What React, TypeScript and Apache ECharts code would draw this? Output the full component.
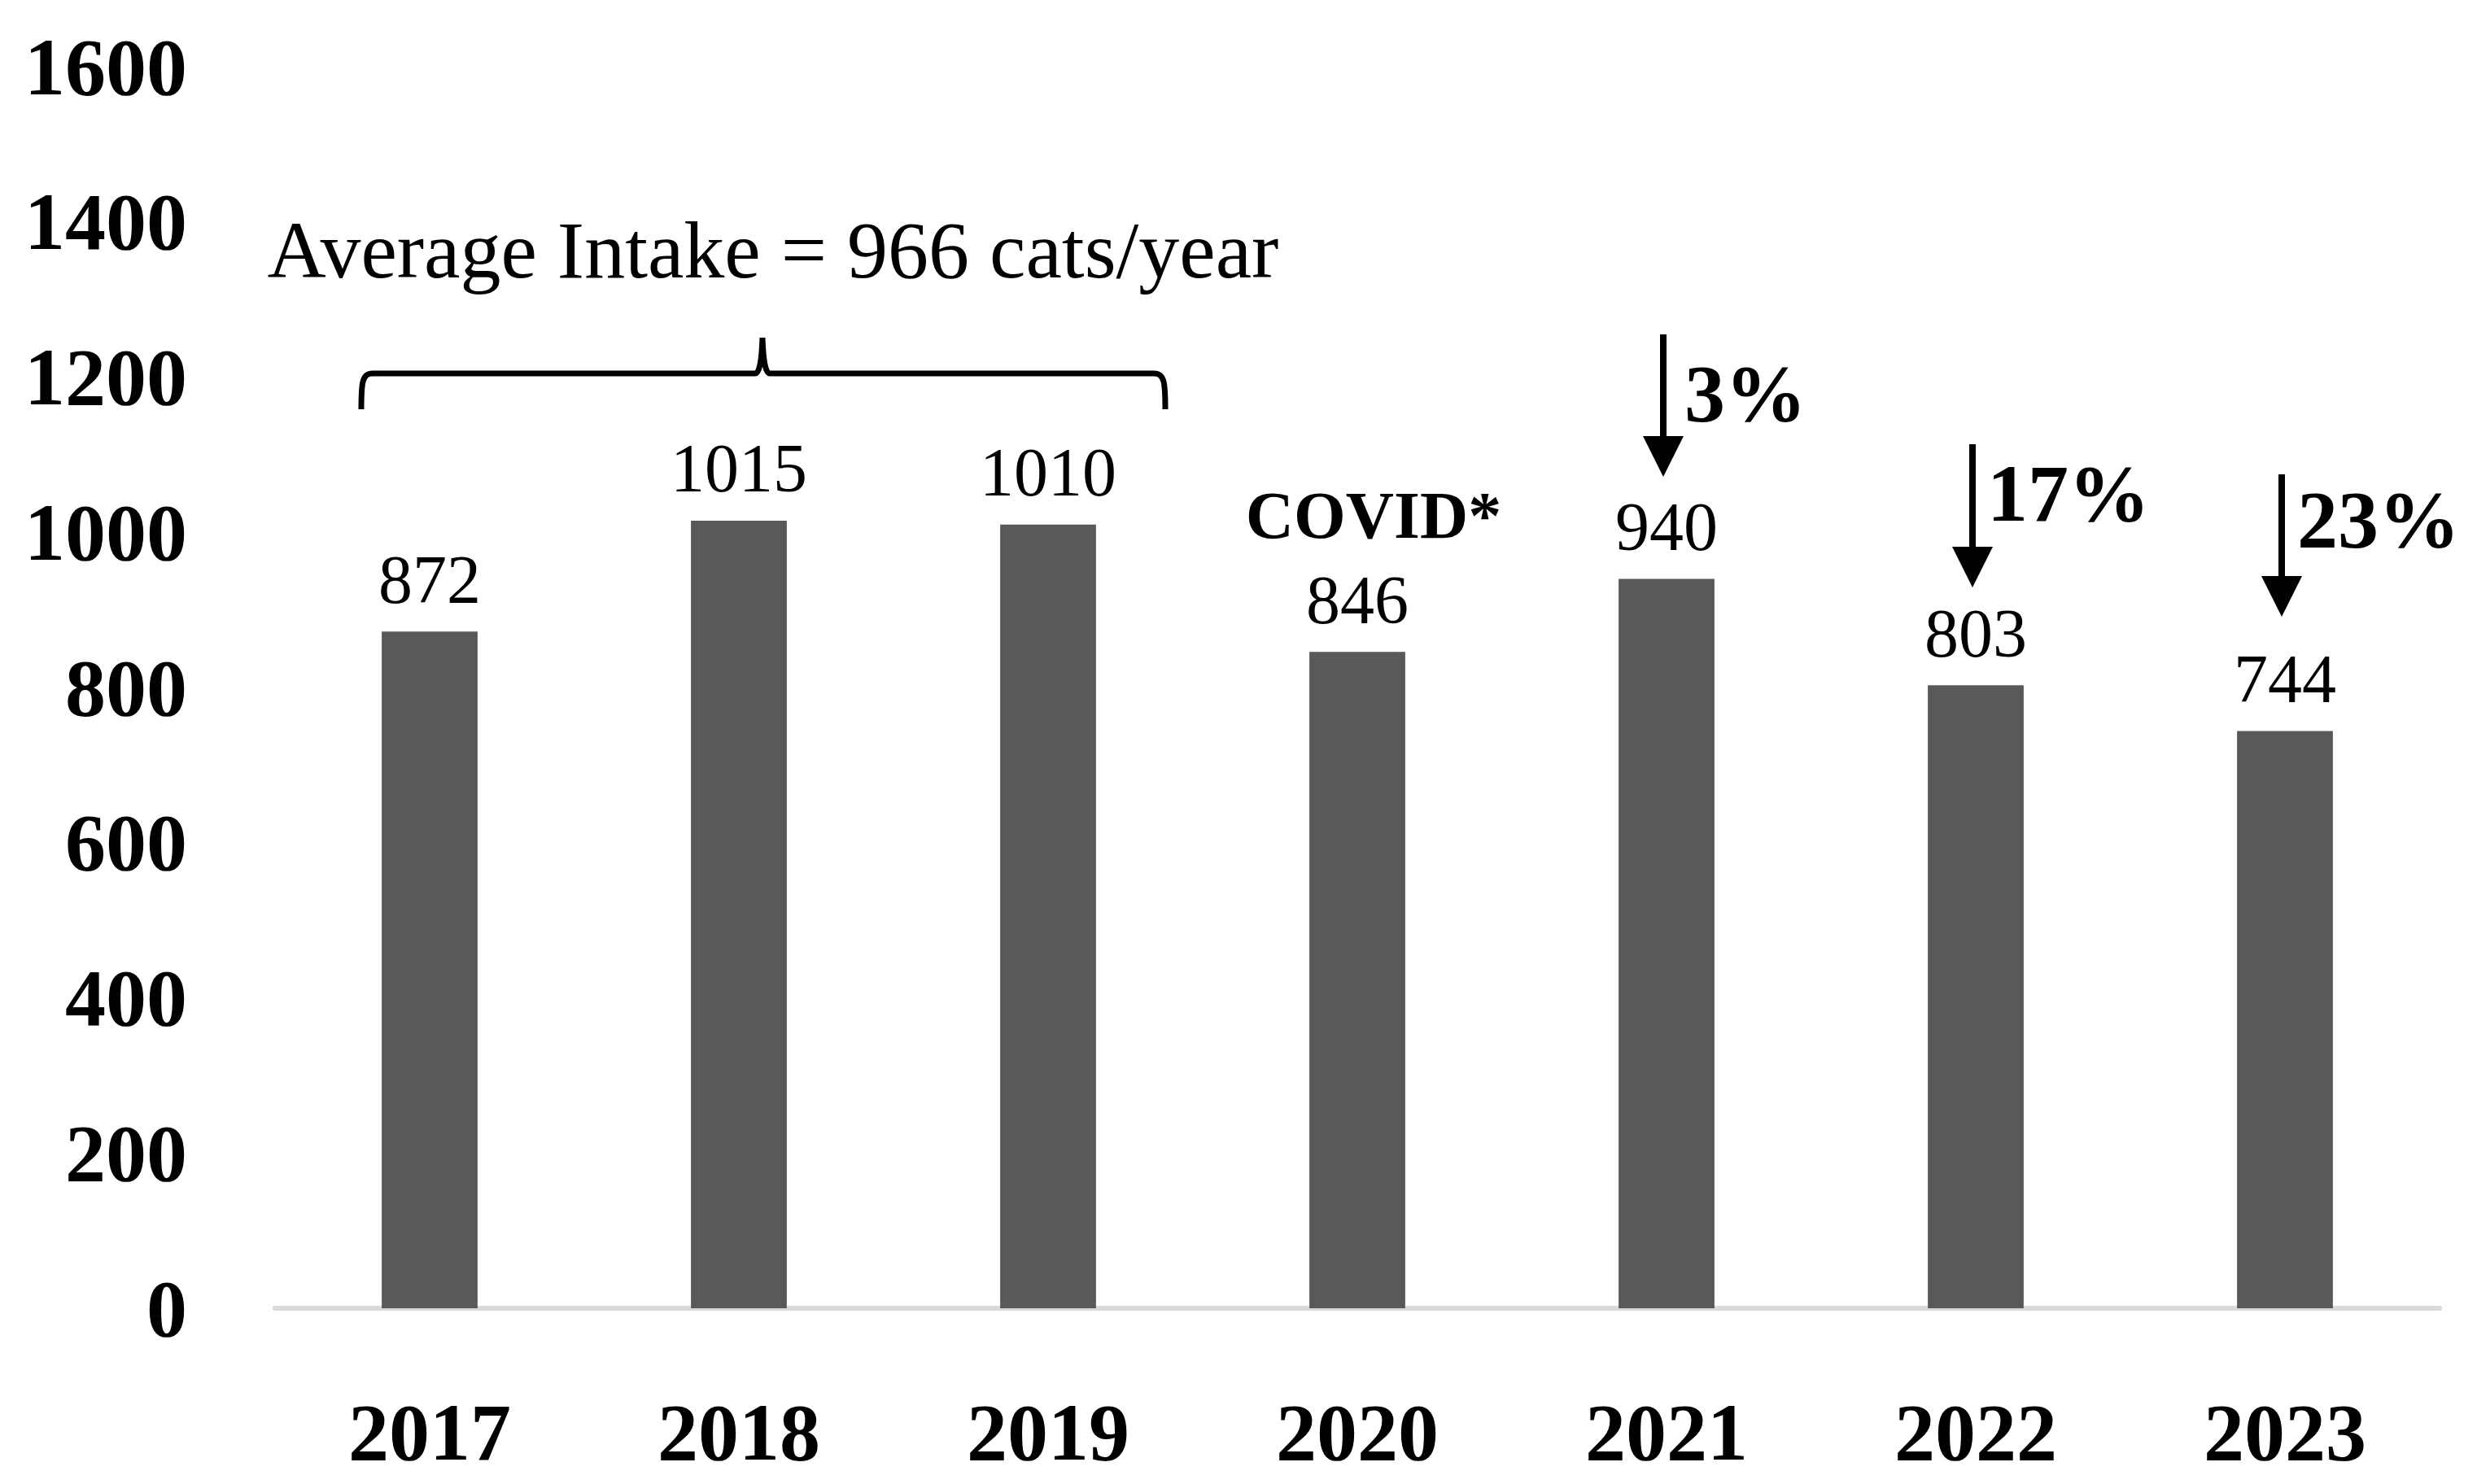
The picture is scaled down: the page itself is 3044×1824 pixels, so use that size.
import React, { useEffect, useRef } from "react";
import * as echarts from "echarts";

// ---------- data ----------
const years = ["2017", "2018", "2019", "2020", "2021", "2022", "2023"];
const intake = [872, 1015, 1010, 846, 940, 803, 744];
const yMin = 0;
const yMax = 1600;
const yInterval = 200;
const covidYear = "2020";
const covidNote = "COVID*";
const averageNote = "Average Intake = 966 cats/year";
const dropYears = ["2021", "2022", "2023"];
const dropPercents = ["3%", "17%", "23%"];

// ---------- layout (annotation placement, pixels) ----------
const W = 3044;
const H = 1824;
const FONT = "'Liberation Serif', 'Times New Roman', serif";
const arrowTops = [411, 546, 583];
const arrowTips = [586, 722, 758];
const pctDx = [26, 18, 19];
const pctCy = [483, 606, 638];

const BRACE_D =
  "M444,503 C444,470 445,459 458,459 L928,459 C933,459 936,445 937,415 C938,445 941,459 946,459 L1418,459 C1431,459 1432,470 1432,503";
echarts.graphic.registerShape("brace", echarts.graphic.extendPath(BRACE_D, {}));

export default function App() {
  const ref = useRef<HTMLDivElement>(null);

  useEffect(() => {
    document.body.style.margin = "0";
    const chart = echarts.init(ref.current!, null, { renderer: "svg", width: W, height: H });

    const barData = intake.map((v, i) =>
      years[i] === covidYear
        ? {
            value: v,
            label: {
              formatter: `{c|${covidNote}}\n{v|${v}}`,
              rich: {
                c: {
                  fontFamily: FONT,
                  fontWeight: "bold",
                  fontSize: 82,
                  lineHeight: 126,
                  color: "#000",
                  padding: [0, 0, 0, 40],
                },
                v: { fontFamily: FONT, fontSize: 84, lineHeight: 82, color: "#000" },
              },
            },
          }
        : v
    );

    chart.setOption({
      animation: false,
      backgroundColor: "#ffffff",
      grid: { left: 338, right: 46, top: 82, bottom: 216, containLabel: false },
      xAxis: {
        type: "category",
        data: years,
        boundaryGap: true,
        axisLine: { show: true, lineStyle: { color: "#d9d9d9", width: 6 } },
        axisTick: { show: false },
        axisLabel: {
          fontFamily: FONT,
          fontWeight: "bold",
          fontSize: 100,
          color: "#000",
          margin: 102,
        },
        splitLine: { show: false },
      },
      yAxis: {
        type: "value",
        min: yMin,
        max: yMax,
        interval: yInterval,
        axisLine: { show: false },
        axisTick: { show: false },
        splitLine: { show: false },
        axisLabel: {
          fontFamily: FONT,
          fontWeight: "bold",
          fontSize: 100,
          color: "#000",
          margin: 108,
          formatter: (v: number) => String(v),
        },
      },
      series: [
        {
          type: "bar",
          data: barData,
          barWidth: "31%",
          itemStyle: { color: "#595959" },
          label: {
            show: true,
            position: "top",
            distance: 23,
            fontFamily: FONT,
            fontSize: 84,
            lineHeight: 82,
            color: "#000",
          },
        },
      ],
    });

    const graphics: any[] = [];
    graphics.push({
      type: "brace",
      x: 0,
      y: 0,
      style: { fill: "none", stroke: "#000", lineWidth: 7, lineJoin: "bevel" },
    });
    graphics.push({
      type: "text",
      x: 950,
      y: 307,
      style: {
        text: averageNote,
        fontFamily: FONT,
        fontSize: 100,
        fill: "#000",
        align: "center",
        verticalAlign: "middle",
        textAlign: "center",
        textVerticalAlign: "middle",
      },
    });
    dropYears.forEach((yr, i) => {
      const cx = (chart.convertToPixel({ xAxisIndex: 0 }, yr) as number) - 4;
      const top = arrowTops[i];
      const tip = arrowTips[i];
      const headTop = tip - 50;
      graphics.push({
        type: "line",
        shape: { x1: cx, y1: top, x2: cx, y2: headTop + 2 },
        style: { stroke: "#000", lineWidth: 8 },
      });
      graphics.push({
        type: "polygon",
        shape: { points: [[cx - 25, headTop], [cx + 25, headTop], [cx, tip]] },
        style: { fill: "#000" },
      });
      graphics.push({
        type: "text",
        x: cx + pctDx[i],
        y: pctCy[i],
        style: {
          text: dropPercents[i],
          fontFamily: FONT,
          fontWeight: "bold",
          fontSize: 100,
          fill: "#000",
          align: "left",
          verticalAlign: "middle",
          textAlign: "left",
          textVerticalAlign: "middle",
        },
      });
    });
    chart.setOption({ graphic: { elements: graphics } });

    return () => chart.dispose();
  }, []);

  return (
    <div
      ref={ref}
      style={{ position: "absolute", left: 0, top: 0, width: W, height: H }}
    />
  );
}
